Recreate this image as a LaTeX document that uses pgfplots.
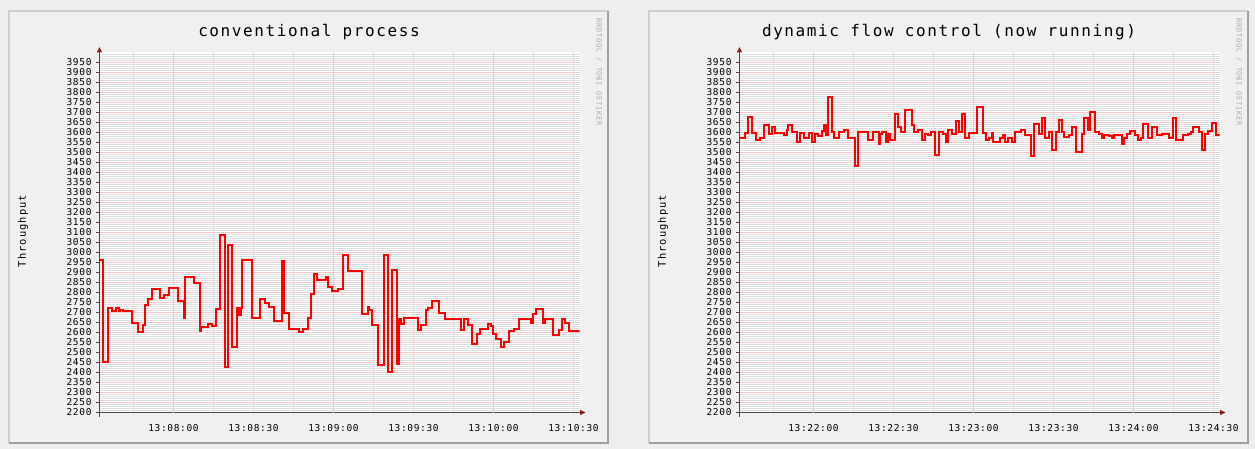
\documentclass[border=0pt]{standalone}
\usepackage{fontspec}
\usepackage{pgfplots}
\usepackage{pgfplotstable}
\pgfplotsset{compat=1.18}
\usetikzlibrary{arrows.meta}
\setmainfont{DejaVu Sans}
\newfontfamily\monoT{DejaVu Sans Mono}[LetterSpace=10]
\newfontfamily\monoK{DejaVu Sans Mono}[LetterSpace=7]
\definecolor{outerbg}{RGB}{238,238,238}
\definecolor{panelbg}{RGB}{240,240,240}
\definecolor{shadeA}{RGB}{206,206,206}
\definecolor{shadeB}{RGB}{160,160,160}
\definecolor{gridgray}{RGB}{222,222,222}
\definecolor{gridred}{RGB}{244,198,198}
\definecolor{axisgray}{RGB}{80,72,72}
\definecolor{arrowred}{RGB}{140,30,30}
\definecolor{wmgray}{RGB}{170,170,170}

\pgfplotstableread{
t v
452.0 2960
453.7 2450
455.6 2720
457.0 2705
458.4 2720
459.4 2705
460.0 2712
460.9 2705
464.6 2647
466.5 2602
468.7 2635
469.4 2735
470.4 2765
471.8 2815
474.9 2770
476.5 2785
478.4 2823
481.5 2757
484.0 2673
484.4 2875
487.5 2847
489.9 2605
490.4 2627
492.8 2643
494.6 2633
495.9 2715
497.5 3085
499.4 2427
500.6 3035
501.9 2527
503.8 2723
504.7 2685
505.3 2723
505.7 2963
509.6 2673
512.5 2765
514.4 2745
515.9 2727
517.5 2657
520.7 2955
521.5 2697
523.4 2615
527.2 2603
528.7 2615
530.5 2673
531.5 2793
532.5 2893
533.8 2863
537.2 2875
537.8 2827
539.6 2807
541.5 2815
543.7 2985
545.6 2905
550.5 2693
552.8 2727
553.4 2710
554.6 2635
556.5 2435
558.8 2985
560.5 2402
561.9 2913
563.8 2443
564.7 2665
565.4 2640
566.5 2673
571.5 2613
572.8 2635
574.7 2713
575.6 2723
576.8 2755
579.7 2697
581.8 2665
587.8 2613
588.8 2665
590.6 2635
591.9 2543
593.8 2593
594.9 2615
597.8 2643
599.0 2633
599.9 2593
600.9 2565
602.8 2527
603.8 2552
605.9 2605
607.5 2618
609.7 2665
614.0 2647
614.9 2693
615.9 2715
618.7 2647
619.3 2665
622.4 2585
624.6 2613
625.5 2665
626.8 2647
628.4 2605
632.3 2605
}\leftdata

\pgfplotstableread{
t v
1292.0 3573
1294.4 3597
1295.3 3677
1296.9 3597
1298.4 3563
1299.9 3573
1301.5 3635
1303.4 3593
1304.3 3627
1305.7 3597
1309.0 3585
1309.9 3613
1310.6 3635
1311.9 3602
1313.8 3552
1314.9 3597
1316.5 3573
1318.4 3597
1319.4 3552
1320.7 3593
1321.5 3580
1323.2 3607
1323.8 3635
1324.7 3585
1325.5 3777
1326.9 3602
1327.8 3573
1329.7 3602
1331.5 3613
1332.8 3573
1335.7 3430
1336.8 3602
1340.6 3563
1342.4 3602
1344.4 3540
1345.0 3590
1345.7 3602
1347.2 3552
1348.1 3593
1348.8 3563
1350.7 3693
1351.5 3627
1352.8 3602
1354.4 3713
1356.9 3635
1357.8 3602
1359.0 3610
1360.7 3560
1361.9 3593
1363.1 3585
1364.0 3602
1365.7 3485
1367.2 3602
1368.4 3590
1369.7 3552
1370.6 3613
1371.9 3593
1373.4 3657
1374.7 3602
1375.7 3693
1376.9 3573
1378.4 3597
1381.2 3727
1383.7 3597
1384.7 3560
1385.9 3573
1386.9 3597
1387.4 3552
1389.9 3573
1390.9 3585
1391.9 3552
1392.8 3573
1394.4 3552
1395.7 3602
1397.8 3613
1399.4 3585
1401.5 3480
1402.8 3643
1404.7 3593
1405.7 3673
1406.9 3573
1408.4 3602
1409.4 3513
1410.9 3602
1411.9 3663
1413.2 3602
1414.0 3577
1415.9 3585
1417.1 3627
1418.4 3502
1420.7 3590
1421.5 3673
1422.8 3613
1423.7 3702
1425.7 3602
1427.2 3590
1428.2 3573
1429.0 3585
1430.9 3580
1431.9 3573
1432.8 3585
1435.7 3543
1436.5 3573
1437.4 3590
1438.7 3607
1440.7 3585
1441.5 3563
1442.8 3573
1443.7 3643
1445.6 3573
1447.1 3627
1448.8 3585
1450.7 3593
1453.4 3573
1454.7 3673
1456.1 3563
1458.4 3585
1460.3 3593
1461.5 3602
1462.4 3627
1464.7 3602
1465.7 3513
1466.9 3593
1468.1 3607
1469.6 3647
1470.9 3585
1472.3 3585
}\rightdata

\pgfplotsset{
  rrd/.style={
    scale only axis, width=480bp, height=360bp, anchor=south west,
    ymin=2200, ymax=4000,
    ytick={2200,2250,...,3950},
    minor ytick={2210,2220,...,3990},
    axis x line=bottom, axis y line=left,
    axis line style={axisgray, line width=1bp},
    x axis line style={-{Triangle[length=5.5bp,width=5bp,color=arrowred,fill=arrowred]}, shorten >=-6bp},
    y axis line style={-{Triangle[length=5.5bp,width=5bp,color=arrowred,fill=arrowred]}, shorten >=-5.5bp, shorten <=-4bp},
    ymajorgrids, yminorgrids, xminorgrids,
    major grid style={gridred, line width=1bp},
    minor grid style={gridgray, line width=1bp},
    tick align=outside, major tick length=3.5bp, minor tick length=0pt,
    xtick style={draw=none},
    ytick style={axisgray, line width=1bp},
    tick label style={font=\monoK\fontsize{9.5bp}{10bp}\selectfont},
    /pgf/number format/assume math mode=true,
    /pgf/number format/1000 sep={},
    yticklabel style={xshift=-1bp},
    xticklabel style={yshift=-5bp},
    axis background/.style={fill=white},
    ylabel={Throughput},
    ylabel style={at={(axis description cs:-0.1594,0.504)}, anchor=center,
      font=\monoT\fontsize{10.4bp}{12bp}\selectfont},
    extra x tick style={grid=major, major tick length=0pt, xtick style={draw=none}},
    extra x tick labels={},
  }
}

\begin{document}
\begin{tikzpicture}[x=1bp,y=1bp]
\fill[outerbg] (0bp,0bp) rectangle (1255bp,449bp);
\foreach \dx in {0,640} {
  \fill[panelbg] (8bp+\dx bp,5bp) rectangle (608.5bp+\dx bp,439bp);
  \draw[shadeA, line width=2bp] (9bp+\dx bp,6bp) -- (9bp+\dx bp,438bp) -- (607.5bp+\dx bp,438bp);
  \draw[shadeB, line width=2bp] (9bp+\dx bp,6bp) -- (607.5bp+\dx bp,6bp) -- (607.5bp+\dx bp,438bp);
}

\begin{axis}[rrd, at={(99.5bp,36.5bp)},
  xmin=452.25, xmax=632.25,
  xtick={480,510,...,630},
  xticklabels={13:08:00,13:08:30,13:09:00,13:09:30,13:10:00,13:10:30},
  minor xtick={465,480,...,630},
  extra x ticks={480,540,600}]
\addplot[const plot, color=red, line width=2bp, line join=miter] table[x=t,y=v] {\leftdata};
\end{axis}

\begin{axis}[rrd, at={(739.5bp,36.5bp)},
  xmin=1292.25, xmax=1472.25,
  xtick={1320,1350,...,1470},
  xticklabels={13:22:00,13:22:30,13:23:00,13:23:30,13:24:00,13:24:30},
  minor xtick={1305,1320,...,1470},
  extra x ticks={1320,1380,1440}]
\addplot[const plot, color=red, line width=2bp, line join=miter] table[x=t,y=v] {\rightdata};
\end{axis}

\node[font=\monoT\fontsize{16bp}{18bp}\selectfont] at (309bp,417bp) {conventional process};
\node[font=\monoT\fontsize{16bp}{18bp}\selectfont] at (949bp,417bp) {dynamic flow control (now running)};
\node[rotate=-90, font=\monoT\fontsize{7.1bp}{8bp}\selectfont, text=wmgray] at (599bp,377bp) {RRDTOOL / TOBI OETIKER};
\node[rotate=-90, font=\monoT\fontsize{7.1bp}{8bp}\selectfont, text=wmgray] at (1239bp,377bp) {RRDTOOL / TOBI OETIKER};

\pgfresetboundingbox
\useasboundingbox (0bp,0bp) rectangle (1255bp,449bp);
\end{tikzpicture}
\end{document}
